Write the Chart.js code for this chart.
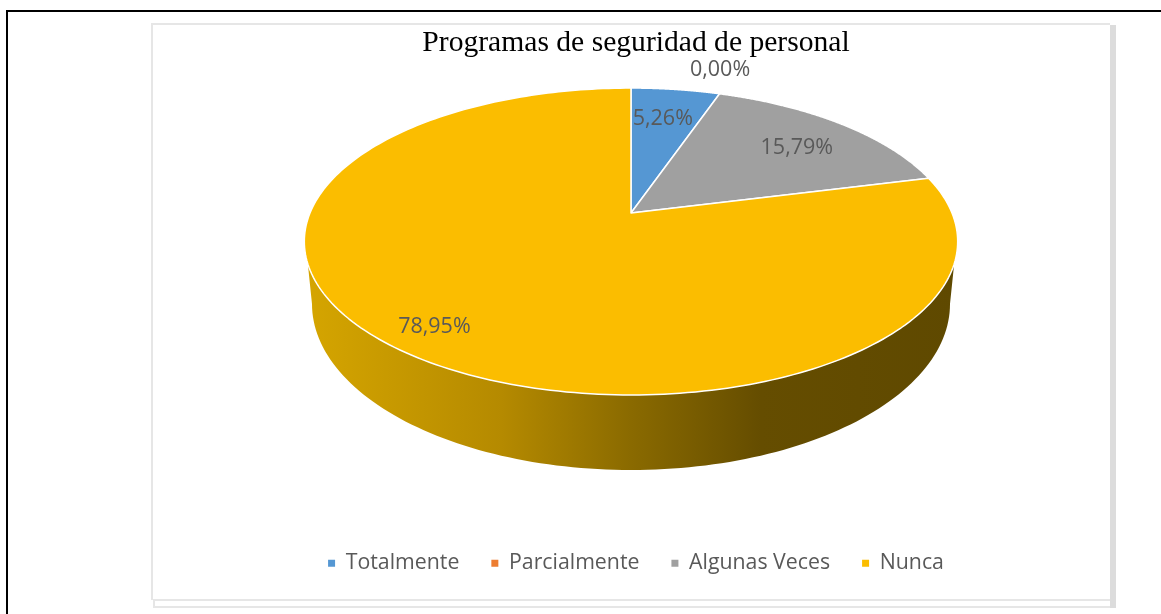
<!DOCTYPE html>
<html>
<head>
<meta charset="utf-8">
<title>Programas de seguridad de personal</title>
<script src="https://cdn.jsdelivr.net/npm/chart.js@4/dist/chart.umd.min.js"></script>
<style>
  html, body { margin: 0; padding: 0; background: #fff; overflow: hidden; }
  #page { position: relative; width: 1161px; height: 614px; }
  #page div { position: absolute; }
  canvas { position: absolute; left: 0; top: 0; }
</style>
</head>
<body>
<div id="page">
  <!-- marco negro -->
  <div style="left:6px;top:10px;width:2px;height:604px;background:#000"></div>
  <div style="left:6px;top:10px;width:1155px;height:2px;background:#000"></div>
  <!-- borde gris del grafico -->
  <div style="left:151px;top:23px;width:959px;height:2px;background:#e6e6e6"></div>
  <div style="left:151px;top:23px;width:2px;height:577px;background:#e6e6e6"></div>
  <div style="left:153px;top:599px;width:2px;height:9px;background:#e6e6e6"></div>
  <div style="left:153px;top:599px;width:957px;height:2px;background:#e6e6e6"></div>
  <div style="left:155px;top:606px;width:961px;height:2px;background:#e6e6e6"></div>
  <div style="left:1110px;top:25px;width:6px;height:583px;background:#dcdcdc"></div>
  <canvas id="grafico" width="1161" height="614"></canvas>
</div>
<script>
var categorias = ["Totalmente", "Parcialmente", "Algunas Veces", "Nunca"];
var porcentajes = [5.26, 0, 15.79, 78.95];
var colores = ["#5597d3", "#ed7d31", "#a0a0a0", "#fbbd00"];
var titulo = "Programas de seguridad de personal";

// el plato visto en perspectiva: centro del circulo en (CX, CY)
var CX = 631, CY = 213, ESC_X = 321, ESC_Y = 108.6, K = -0.1857;

function proyectar(theta, r) {
  var u = r * Math.sin(theta), v = -r * Math.cos(theta);
  var d = 1 + K * v;
  return { x: CX + ESC_X * u / d, y: (ESC_Y * v + CY) / d };
}

function angulos(arc) {
  // chart.js mide desde -90 grados, aqui theta = 0 arriba
  return [arc.startAngle + Math.PI / 2, arc.endAngle + Math.PI / 2];
}

function pared(ctx, arc) {
  var a = angulos(arc);
  var der = 1.9, izq = Math.PI * 2 - 1.9;   // parte visible del canto
  var ini = Math.max(a[0], der), fin = Math.min(a[1], izq);
  if (fin <= ini) return;
  var grad = ctx.createLinearGradient(307, 0, 955, 0);
  grad.addColorStop(0, "#d5a500");
  grad.addColorStop(0.3, "#b58a00");
  grad.addColorStop(0.5, "#8a6a00");
  grad.addColorStop(0.7, "#654d00");
  grad.addColorStop(1, "#5f4900");
  ctx.beginPath();
  var i, p, n = 120;
  for (i = 0; i <= n; i++) {
    p = proyectar(ini + (fin - ini) * i / n, 1);
    if (i == 0) ctx.moveTo(p.x, p.y); else ctx.lineTo(p.x, p.y);
  }
  // borde inferior, de vuelta de izquierda a derecha
  for (i = n; i >= 0; i--) {
    var t = Math.PI * i / n;
    ctx.lineTo(631 + 319 * Math.cos(t), 304 + 166 * Math.sin(t));
  }
  ctx.closePath();
  ctx.fillStyle = grad;
  ctx.fill();
}

function tapa(ctx, arc, color) {
  var a = angulos(arc);
  if (a[1] - a[0] < 0.001) return;
  ctx.beginPath();
  ctx.moveTo(CX, CY);
  var n = 240;
  for (var i = 0; i <= n; i++) {
    var p = proyectar(a[0] + (a[1] - a[0]) * i / n, 1);
    ctx.lineTo(p.x, p.y);
  }
  ctx.closePath();
  ctx.fillStyle = color;
  ctx.fill();
  ctx.lineWidth = 1.5;
  ctx.strokeStyle = "#fff";
  ctx.lineJoin = "round";
  ctx.stroke();
}

var radioEtiqueta = [0.75, 1.24, 0.76, 0.87];
var ajusteEtiqueta = [[-3, 2], [-17, 0], [2, 4], [0, -3]];

var pastel3d = {
  id: "pastel3d",
  beforeDatasetDraw: function(chart, args) {
    var ctx = chart.ctx, arcs = args.meta.data;
    ctx.save();
    arcs.forEach(function(arc) { pared(ctx, arc); });
    arcs.forEach(function(arc, i) { tapa(ctx, arc, colores[i]); });
    ctx.font = "21.5px 'Open Sans'";
    ctx.fillStyle = "#595959";
    ctx.textAlign = "center";
    ctx.textBaseline = "middle";
    arcs.forEach(function(arc, i) {
      var a = angulos(arc);
      var p = proyectar((a[0] + a[1]) / 2, radioEtiqueta[i]);
      var txt = porcentajes[i].toFixed(2).replace(".", ",") + "%";
      ctx.fillText(txt, p.x + ajusteEtiqueta[i][0], p.y + ajusteEtiqueta[i][1]);
    });
    ctx.restore();
    return false;
  }
};

new Chart(document.getElementById("grafico"), {
  type: "pie",
  data: {
    labels: categorias,
    datasets: [{ data: porcentajes, backgroundColor: colores, borderWidth: 0 }]
  },
  options: {
    responsive: false,
    animation: false,
    layout: { padding: { left: 160, right: 49, top: 25, bottom: 30 } },
    plugins: {
      title: {
        display: true,
        text: titulo,
        color: "#000",
        font: { family: "'Liberation Serif'", size: 29.6, weight: "normal" },
        padding: { top: 0, bottom: 0 }
      },
      legend: {
        position: "bottom",
        labels: {
          color: "#595959",
          font: { family: "'Open Sans'", size: 21.3 },
          boxWidth: 7,
          boxHeight: 7,
          padding: 32
        }
      },
      tooltip: { enabled: false }
    }
  },
  plugins: [pastel3d]
});
</script>
</body>
</html>
